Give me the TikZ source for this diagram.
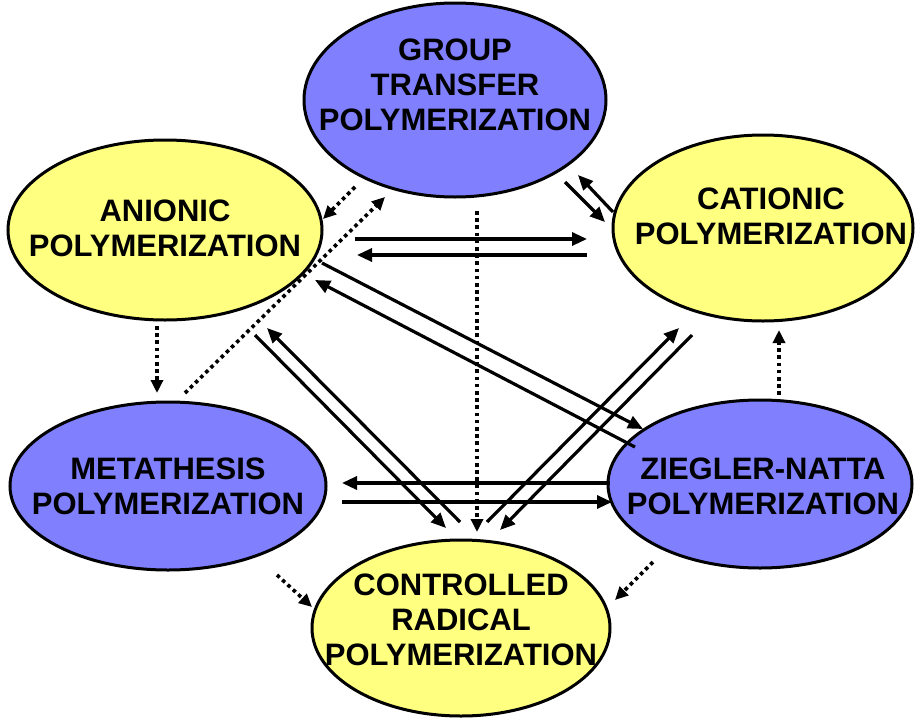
\documentclass[tikz,border=0pt]{standalone}
\usepackage{fontspec}
\setmainfont{Liberation Sans}
\usetikzlibrary{shapes.geometric, arrows.meta, positioning}
\definecolor{blueblob}{RGB}{128,128,255}
\definecolor{yellowblob}{RGB}{255,255,128}

\begin{document}
\begin{tikzpicture}[
    x=1pt, y=-1pt,
    blob/.style={ellipse, draw, line width=3pt, inner sep=0pt},
    lbl/.style={align=center, inner sep=0pt,
                font=\fontsize{31}{35}\selectfont\bfseries},
    arr/.style={-{Triangle[length=15pt,width=13pt]}, line width=3.2pt},
    dotarr/.style={-{Triangle[length=13pt,width=12pt]}, line width=3.6pt,
                   dash pattern=on 3.6pt off 3.6pt},
]
\useasboundingbox (0,0) rectangle (916,723);

% Methods
\node[blob, fill=blueblob, minimum width=302pt, minimum height=194pt]
      at (455,100) (gtp) {};
\node[blob, fill=yellowblob, minimum width=314pt, minimum height=180pt]
      at (165,230) (anionic) {};
\node[blob, fill=yellowblob, minimum width=300pt, minimum height=186pt]
      at (763,228) (cationic) {};
\node[blob, fill=blueblob, minimum width=316pt, minimum height=168pt]
      at (168,486) (meta) {};
\node[blob, fill=blueblob, minimum width=304pt, minimum height=168pt]
      at (760,484) (zn) {};
\node[blob, fill=yellowblob, minimum width=298pt, minimum height=176pt]
      at (461,628) (crp) {};

% Labels
\node[lbl] at ([shift={(0,-15)}]gtp.center) (gtp_t) {GROUP\\TRANSFER\\POLYMERIZATION};
\node[lbl] at ([shift={(0,-2)}]anionic.center) (anionic_t) {ANIONIC\\POLYMERIZATION};
\node[lbl] at ([shift={(8,-12)}]cationic.center) (cationic_t) {CATIONIC\\POLYMERIZATION};
\node[lbl] at ([shift={(0,0)}]meta.center) (meta_t) {METATHESIS\\POLYMERIZATION};
\node[lbl] at ([shift={(3,2)}]zn.center) (zn_t) {ZIEGLER-NATTA\\POLYMERIZATION};
\node[lbl] at ([shift={(0,-8)}]crp.center) (crp_t) {CONTROLLED\\RADICAL\\POLYMERIZATION};

% Solid arrows
\draw[arr] ([shift={(190,9)}]anionic.center) -- ([shift={(-176,11)}]cationic.center);
\draw[arr] ([shift={(-176,27)}]cationic.center) -- ([shift={(192,25)}]anionic.center);
\draw[arr] ([shift={(110,82)}]gtp.center) -- ([shift={(-158,-6)}]cationic.center);
\draw[arr] ([shift={(-150,-16)}]cationic.center) -- ([shift={(123,75)}]gtp.center);
\draw[arr] ([shift={(157,33)}]anionic.center) -- ([shift={(-117,-55)}]zn.center);
\draw[arr] ([shift={(-125,-37)}]zn.center) -- ([shift={(150,50)}]anionic.center);
\draw[arr] ([shift={(90,105)}]anionic.center) -- ([shift={(-15,-100)}]crp.center);
\draw[arr] ([shift={(-1,-106)}]crp.center) -- ([shift={(102,98)}]anionic.center);
\draw[arr] ([shift={(26,-106)}]crp.center) -- ([shift={(-84,100)}]cationic.center);
\draw[arr] ([shift={(-71,107)}]cationic.center) -- ([shift={(39,-98)}]crp.center);
\draw[arr] ([shift={(-150,-1)}]zn.center) -- ([shift={(174,-3)}]meta.center);
\draw[arr] ([shift={(174,16)}]meta.center) -- ([shift={(-148,18)}]zn.center);

% Dotted arrows
\draw[dotarr] ([shift={(-100,87)}]gtp.center) -- ([shift={(158,-11)}]anionic.center);
\draw[dotarr] ([shift={(17,-93)}]meta.center) -- ([shift={(-70,97)}]gtp.center);
\draw[dotarr] ([shift={(22,111)}]gtp.center) -- ([shift={(16,-96)}]crp.center);
\draw[dotarr] ([shift={(-8,96)}]anionic.center) -- ([shift={(-11,-93)}]meta.center);
\draw[dotarr] ([shift={(19,-89)}]zn.center) -- ([shift={(16,102)}]cationic.center);
\draw[dotarr] ([shift={(109,89)}]meta.center) -- ([shift={(-149,-21)}]crp.center);
\draw[dotarr] ([shift={(-107,78)}]zn.center) -- ([shift={(154,-28)}]crp.center);

\end{tikzpicture}
\end{document}
